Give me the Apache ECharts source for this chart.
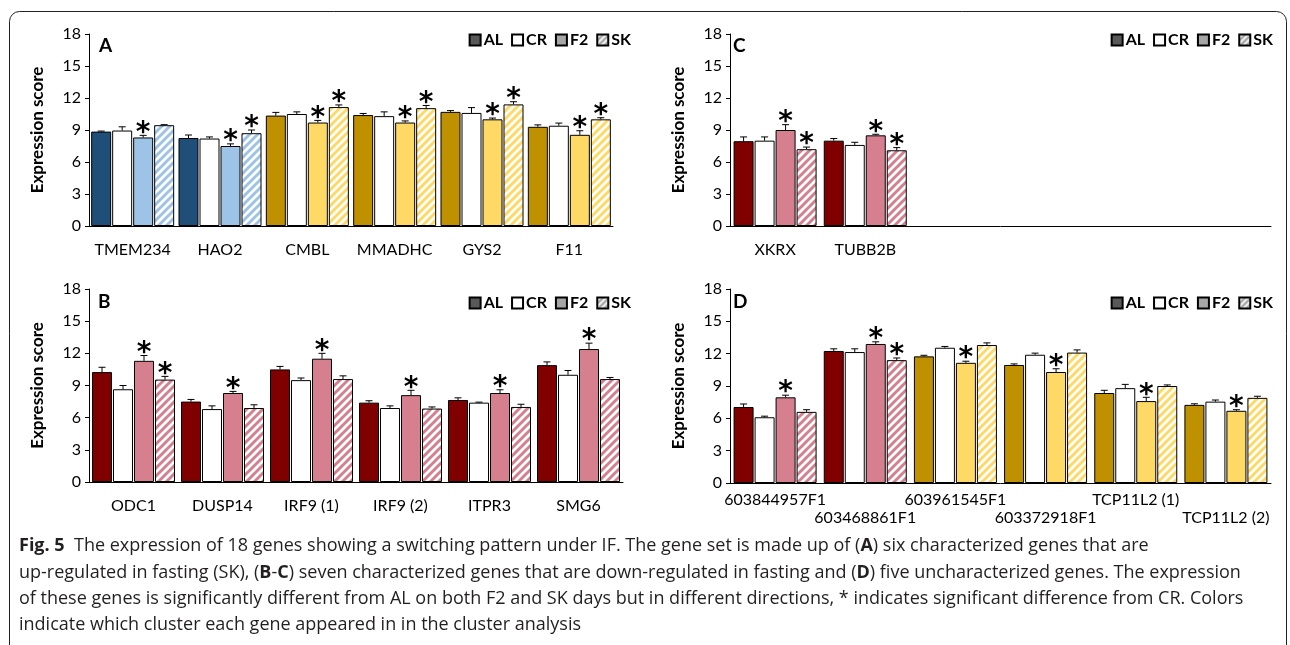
<!DOCTYPE html>
<html><head><meta charset="utf-8">
<script src="https://cdn.jsdelivr.net/npm/echarts@6/dist/echarts.min.js"></script>
<style>html,body{margin:0;padding:0;background:#fff}#c{width:1290px;height:645px}</style>
</head><body><div id="c"></div><script>
// ---------------- DATA ----------------
const seriesNames = ['AL', 'CR', 'F2', 'SK'];
const yMin = 0, yMax = 18, yStep = 3;

// Panel A
const genesA = ['TMEM234', 'HAO2', 'CMBL', 'MMADHC', 'GYS2', 'F11'];
const clusterA = ['blue', 'blue', 'gold', 'gold', 'gold', 'gold'];
const alA = [8.85, 8.25, 10.35, 10.4, 10.7, 9.3];
const crA = [8.95, 8.2, 10.5, 10.3, 10.6, 9.4];
const f2A = [8.3, 7.5, 9.7, 9.7, 10.0, 8.55];
const skA = [9.45, 8.7, 11.15, 11.05, 11.4, 10.0];
const alErrA = [0.05, 0.28, 0.3, 0.15, 0.12, 0.18];
const crErrA = [0.35, 0.15, 0.2, 0.4, 0.5, 0.25];
const f2ErrA = [0.2, 0.2, 0.2, 0.15, 0.12, 0.38];
const skErrA = [0.05, 0.3, 0.2, 0.25, 0.25, 0.15];
const starF2A = [1, 1, 1, 1, 1, 1];
const starSKA = [0, 1, 1, 1, 1, 1];

// Panel C
const genesC = ['XKRX', 'TUBB2B', '', '', '', ''];
const clusterC = ['red', 'red'];
const alC = [7.95, 8.0];
const crC = [8.0, 7.6];
const f2C = [9.0, 8.5];
const skC = [7.2, 7.1];
const alErrC = [0.4, 0.2];
const crErrC = [0.35, 0.25];
const f2ErrC = [0.5, 0.1];
const skErrC = [0.2, 0.25];
const starF2C = [1, 1];
const starSKC = [1, 1];

// Panel B
const genesB = ['ODC1', 'DUSP14', 'IRF9 (1)', 'IRF9 (2)', 'ITPR3', 'SMG6'];
const clusterB = ['red', 'red', 'red', 'red', 'red', 'red'];
const alB = [10.25, 7.5, 10.5, 7.4, 7.65, 10.9];
const crB = [8.65, 6.8, 9.5, 6.9, 7.4, 10.0];
const f2B = [11.3, 8.3, 11.5, 8.1, 8.3, 12.4];
const skB = [9.55, 6.9, 9.6, 6.85, 7.0, 9.6];
const alErrB = [0.45, 0.2, 0.28, 0.18, 0.2, 0.3];
const crErrB = [0.35, 0.3, 0.2, 0.2, 0.05, 0.4];
const f2ErrB = [0.5, 0.15, 0.5, 0.45, 0.3, 0.55];
const skErrB = [0.3, 0.3, 0.3, 0.15, 0.25, 0.15];
const starF2B = [1, 1, 1, 1, 1, 1];
const starSKB = [1, 0, 0, 0, 0, 0];

// Panel D
const genesD = ['603844957F1', '603468861F1', '603961545F1', '603372918F1', 'TCP11L2 (1)', 'TCP11L2 (2)'];
const clusterD = ['red', 'red', 'gold', 'gold', 'gold', 'gold'];
const alD = [7.05, 12.25, 11.75, 10.95, 8.35, 7.25];
const crD = [6.1, 12.15, 12.55, 11.9, 8.8, 7.55];
const f2D = [7.95, 12.9, 11.15, 10.3, 7.6, 6.7];
const skD = [6.6, 11.4, 12.8, 12.1, 9.0, 7.9];
const alErrD = [0.28, 0.2, 0.1, 0.1, 0.25, 0.1];
const crErrD = [0.1, 0.3, 0.12, 0.15, 0.35, 0.15];
const f2ErrD = [0.2, 0.2, 0.15, 0.3, 0.35, 0.1];
const skErrD = [0.2, 0.2, 0.2, 0.25, 0.1, 0.15];
const starF2D = [1, 1, 1, 1, 1, 1];
const starSKD = [0, 1, 0, 0, 0, 0];

const captionLines = [
  ['{b|Fig. 5}  The expression of 18 genes showing a switching pattern under IF. The gene set is made up of ({b|A}) six characterized genes that are'],
  ['up-regulated in fasting (SK), ({b|B}-{b|C}) seven characterized genes that are down-regulated in fasting and ({b|D}) five uncharacterized genes. The expression'],
  ['of these genes is significantly different from AL on both F2 and SK days but in different directions, * indicates significant difference from CR. Colors'],
  ['indicate which cluster each gene appeared in in the cluster analysis']
];

// ---------------- STYLE ----------------
const FONT = 'Lato';
const BAR_W = 20, BAR_GAP = 1;
function hatch(color, bg, size, lw) {
  const s = size || 8;
  const c = document.createElement('canvas'); c.width = s; c.height = s;
  const ctx = c.getContext('2d');
  ctx.fillStyle = bg; ctx.fillRect(0, 0, s, s);
  ctx.strokeStyle = color; ctx.lineWidth = lw || 3;
  ctx.beginPath();
  for (let k = -1; k <= 1; k++) { ctx.moveTo(k * s - 1, s + 1); ctx.lineTo(k * s + s + 1, -1); }
  ctx.stroke();
  return { image: c, repeat: 'repeat' };
}
const palette = {
  blue: { AL: '#1f4e79', CR: '#ffffff', F2: '#9dc3e6', SK: hatch('#9dc3e6', '#ffffff') },
  red:  { AL: '#800000', CR: '#ffffff', F2: '#d6808f', SK: hatch('#d6808f', '#ffffff') },
  gold: { AL: '#bf9000', CR: '#ffffff', F2: '#ffd966', SK: hatch('#ffd966', '#ffffff') }
};
const legendColors = { AL: '#595959', CR: '#ffffff', F2: '#a6a6a6', SK: hatch('#a6a6a6', '#ffffff', 6, 2.5) };

const panels = [
  { letter: 'A', genes: genesA, cluster: clusterA, vals: [alA, crA, f2A, skA], errs: [alErrA, crErrA, f2ErrA, skErrA], stars: [null, null, starF2A, starSKA],
    grid: { left: 89, top: 34, width: 524, height: 192 }, legend: { right: 654, top: 27 }, letterPos: [99, 47], labelMargin: 15 },
  { letter: 'C', genes: genesC, cluster: clusterC, vals: [alC, crC, f2C, skC], errs: [alErrC, crErrC, f2ErrC, skErrC], stars: [null, null, starF2C, starSKC],
    grid: { left: 730, top: 34, width: 541, height: 192 }, legend: { right: 12, top: 27 }, letterPos: [733, 47], labelMargin: 15 },
  { letter: 'B', genes: genesB, cluster: clusterB, vals: [alB, crB, f2B, skB], errs: [alErrB, crErrB, f2ErrB, skErrB], stars: [null, null, starF2B, starSKB],
    grid: { left: 89, top: 289, width: 534, height: 193 }, legend: { right: 654, top: 290 }, letterPos: [98, 303], labelMargin: 15 },
  { letter: 'D', genes: genesD, cluster: clusterD, vals: [alD, crD, f2D, skD], errs: [alErrD, crErrD, f2ErrD, skErrD], stars: [null, null, starF2D, starSKD],
    grid: { left: 730, top: 289, width: 541, height: 194 }, legend: { right: 12, top: 290 }, letterPos: [733, 303], labelMargin: 8, stagger: true }
];

// ---------------- BUILD ----------------
const grid = [], xAxis = [], yAxis = [], series = [], legend = [], graphic = [];

function renderErr(params, api) {
  const cat = api.value(0), v = api.value(1), e = api.value(2), s = api.value(3), star = api.value(4);
  const base = api.coord([cat, v]);
  const top = api.coord([cat, v + e]);
  const x = base[0] + (s - 1.5) * (BAR_W + BAR_GAP);
  const children = [];
  const cap = 3.5;
  if (e > 0) {
    children.push({ type: 'line', shape: { x1: x, y1: base[1], x2: x, y2: top[1] }, style: { stroke: '#000', lineWidth: 1 } });
    children.push({ type: 'line', shape: { x1: x - cap, y1: top[1], x2: x + cap, y2: top[1] }, style: { stroke: '#000', lineWidth: 1 } });
  }
  if (star) {
    children.push({ type: 'text', x: x, y: top[1] - 2, style: { text: '*', fontFamily: 'DejaVu Sans', fontWeight: 'bold', fontSize: 28, fill: '#000', align: 'center', verticalAlign: 'middle' } });
  }
  return { type: 'group', children: children };
}

panels.forEach((p, g) => {
  grid.push(Object.assign({ containLabel: false }, p.grid));
  xAxis.push({
    type: 'category', gridIndex: g, data: p.genes,
    axisTick: { show: false },
    axisLine: { lineStyle: { color: '#000', width: 1 } },
    axisLabel: {
      interval: 0, color: '#000', fontFamily: FONT, fontSize: 16, margin: p.labelMargin,
      lineHeight: 18,
      formatter: p.stagger ? function (v, i) { return i % 2 ? '\n' + v : v; } : null
    }
  });
  yAxis.push({
    type: 'value', gridIndex: g, min: yMin, max: yMax, interval: yStep,
    name: 'Expression score', nameLocation: 'middle', nameGap: 43,
    nameTextStyle: { fontFamily: FONT, fontWeight: 'bold', fontSize: 17, color: '#000' },
    axisLine: { show: true, lineStyle: { color: '#000', width: 1 } },
    axisTick: { show: true, length: 4, lineStyle: { color: '#000' } },
    splitLine: { show: false },
    axisLabel: { color: '#000', fontFamily: FONT, fontSize: 16, margin: 8 }
  });
  const errData = [];
  seriesNames.forEach((name, si) => {
    const vals = p.vals[si];
    series.push({
      type: 'bar', name: name, xAxisIndex: g, yAxisIndex: g,
      barWidth: BAR_W, barGap: (BAR_GAP / BAR_W * 100) + '%',
      itemStyle: { color: legendColors[name], borderColor: '#000', borderWidth: 1 },
      emphasis: { disabled: true },
      data: vals.map((v, ci) => ({ value: v, itemStyle: { color: palette[p.cluster[ci]][name] } }))
    });
    vals.forEach((v, ci) => {
      const st = p.stars[si] ? p.stars[si][ci] : 0;
      errData.push([ci, v, p.errs[si][ci], si, st]);
    });
  });
  series.push({
    type: 'custom', name: 'err' + p.letter, xAxisIndex: g, yAxisIndex: g, z: 5,
    renderItem: renderErr, encode: { x: 0, y: 1 }, data: errData, silent: true
  });
  legend.push(Object.assign({
    data: seriesNames, icon: 'rect', orient: 'horizontal', width: 260,
    itemWidth: 11, itemHeight: 11, itemGap: 8, selectedMode: false,
    textStyle: { fontFamily: FONT, fontWeight: 'bold', fontSize: 16, color: '#000', padding: [0, 0, 0, -2] }
  }, p.legend));
  graphic.push({ type: 'text', left: p.letterPos[0], top: p.letterPos[1] - 11,
    style: { text: p.letter, fontFamily: FONT, fontWeight: 'bold', fontSize: 19, fill: '#000' } });
});

// caption font fit
const meas = document.createElement('canvas').getContext('2d');
const capFamily = '"Open Sans"';
meas.font = '16px ' + capFamily;
const plain2 = captionLines[1][0].replace(/\{b\|([^}]*)\}/g, '$1');
let capSize = 16 * 1249 / meas.measureText(plain2).width;
capSize = Math.max(13, Math.min(18, capSize));
const capTops = [549, 576, 602, 628];
captionLines.forEach((ln, i) => {
  graphic.push({ type: 'text', left: 19, top: capTops[i] - capSize * 0.68,
    style: { text: ln[0], fontFamily: 'Open Sans', fontSize: capSize, fill: '#231f20',
      rich: { b: { fontFamily: 'Open Sans', fontSize: capSize, fontWeight: 'bold', fill: '#231f20' } } } });
});
// figure frame
graphic.push({ type: 'rect', shape: { x: 9.5, y: 11.5, width: 1277, height: 700, r: 10 },
  style: { fill: 'none', stroke: '#222', lineWidth: 1 }, silent: true, z: -1 });

const chart = echarts.init(document.getElementById('c'), null, { renderer: 'canvas' });
chart.setOption({ animation: false, backgroundColor: '#fff', grid, xAxis, yAxis, series, legend, graphic });
</script></body></html>
